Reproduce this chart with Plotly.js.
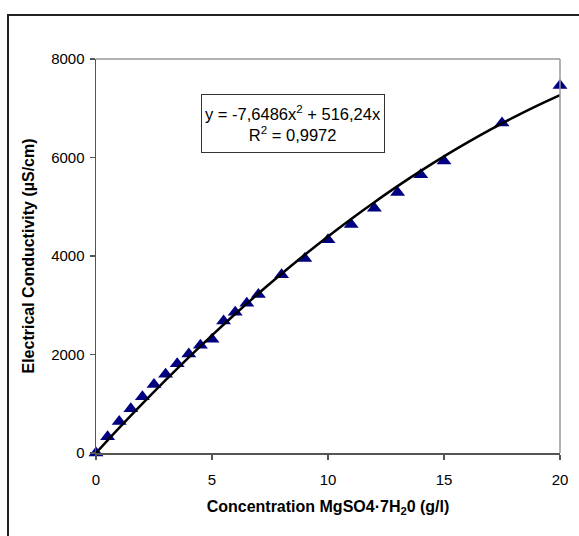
<!DOCTYPE html>
<html>
<head>
<meta charset="utf-8">
<script src="https://cdn.plot.ly/plotly-3.0.1.min.js"></script>
<style>
  html, body { margin: 0; padding: 0; background: #fff; }
  #frame { position: absolute; left: 7px; top: 14px; width: 600px; height: 600px;
           border-left: 2px solid #222; border-top: 2px solid #222; }
  #chart { position: absolute; left: 0; top: 0; width: 579px; height: 536px; }
</style>
</head>
<body>
<div id="frame"></div>
<div id="chart"></div>
<script>
// Measured data (concentration g/l vs conductivity µS/cm)
const concentration = [0, 0.5, 1, 1.5, 2, 2.5, 3, 3.5, 4, 4.5, 5, 5.5, 6, 6.5, 7, 8, 9, 10, 11, 12, 13, 14, 15, 17.5, 20];
const conductivity  = [0, 330, 640, 900, 1140, 1390, 1600, 1810, 2010, 2190, 2310, 2680, 2860, 3040, 3220, 3620, 3950, 4330, 4640, 4970, 5290, 5650, 5930, 6700, 7460];

// Polynomial trendline as drawn (y = -7,6486x² + 516,24x), read at integer x
const trendX = [0, 1, 2, 3, 4, 5, 6, 7, 8, 9, 10, 11, 12, 13, 14, 15, 16, 17, 18, 19, 20];
const trendY = [0, 509, 1002, 1480, 1943, 2390, 2822, 3239, 3640, 4027, 4398, 4753, 5093, 5419, 5728, 6023, 6302, 6566, 6814, 7047, 7265];

const xTicks = [0, 5, 10, 15, 20];
const yTicks = [0, 2000, 4000, 6000, 8000];

const FONT = '"Liberation Sans", Arial, sans-serif';

const traces = [
  {
    x: concentration, y: conductivity, type: 'scatter', mode: 'markers',
    marker: { symbol: 'triangle-up', size: 13, color: '#000080' },
    cliponaxis: false, showlegend: false, hoverinfo: 'x+y'
  },
  {
    x: trendX, y: trendY, type: 'scatter', mode: 'lines',
    line: { color: '#000', width: 2.5, shape: 'spline' },
    cliponaxis: false, showlegend: false, hoverinfo: 'skip'
  }
];

const layout = {
  width: 579, height: 536,
  margin: { l: 96, r: 19, t: 59, b: 83, pad: 0 },
  paper_bgcolor: 'rgba(0,0,0,0)', plot_bgcolor: '#fff',
  font: { family: FONT, size: 15, color: '#000' },
  xaxis: {
    range: [0, 20], tickvals: xTicks, ticktext: xTicks.map(String),
    showgrid: false, zeroline: false,
    showline: true, linecolor: '#555', linewidth: 1.5,
    ticks: 'outside', ticklen: 5, tickcolor: '#555', tickwidth: 1.5,
    ticklabelstandoff: 7,
    tickfont: { family: FONT, size: 15 },
    title: { text: '<b>Concentration MgSO4·7H<sub>2</sub>0 (g/l)</b>', font: { family: FONT, size: 16 }, standoff: 14 },
    fixedrange: true
  },
  yaxis: {
    range: [0, 8000], tickvals: yTicks, ticktext: yTicks.map(String),
    showgrid: false, zeroline: false,
    showline: true, linecolor: '#555', linewidth: 1.5,
    ticks: 'outside', ticklen: 5, tickcolor: '#555', tickwidth: 1.5,
    ticklabelstandoff: 2,
    tickfont: { family: FONT, size: 15 },
    title: { text: '<b>Electrical Conductivity (µS/cm)</b>', font: { family: FONT, size: 16 }, standoff: 12 },
    fixedrange: true
  },
  shapes: [
    { type: 'line', xref: 'paper', yref: 'paper', x0: 0, x1: 1, y0: 1, y1: 1, line: { color: '#999', width: 1.5 } },
    { type: 'line', xref: 'paper', yref: 'paper', x0: 1, x1: 1, y0: 0, y1: 1, line: { color: '#999', width: 1.5 } }
  ],
  annotations: [
    {
      x: 8.47, y: 6690, xref: 'x', yref: 'y', showarrow: false,
      text: 'y = -7,6486x<sup>2</sup> + 516,24x<br>R<sup>2</sup> = 0,9972',
      font: { family: FONT, size: 16.5, color: '#000' },
      bordercolor: '#333', borderwidth: 1, borderpad: 3, bgcolor: '#fff',
      width: 176, height: 51, align: 'center', valign: 'middle'
    }
  ]
};

Plotly.newPlot('chart', traces, layout, { displayModeBar: false, staticPlot: true });
</script>
</body>
</html>
